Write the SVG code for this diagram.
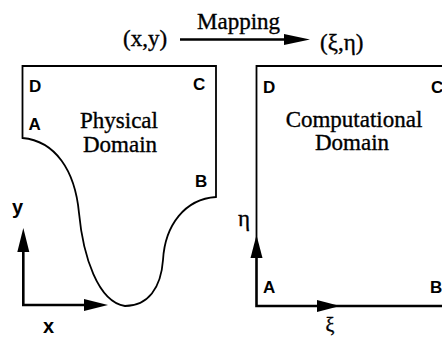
<svg xmlns="http://www.w3.org/2000/svg" width="442" height="341" viewBox="0 0 442 341">
<style>
.serif{font-family:"Liberation Serif","Times New Roman",serif;font-size:23px;fill:#000;stroke:#000;stroke-width:0.35}
.lab{font-family:"Liberation Sans",Arial,sans-serif;font-size:17px;font-weight:bold;fill:#000}
.ax{font-family:"Liberation Sans",Arial,sans-serif;font-size:20px;font-weight:bold;fill:#000}
.ln{fill:none;stroke:#000;stroke-width:1.8}
.thick{fill:none;stroke:#000;stroke-width:2.6}
.head{fill:#000;stroke:none}
</style>
<rect width="442" height="341" fill="#fff"/>
<g id="mapping">
  <text class="serif" x="123" y="45.5">(x,y)</text>
  <text class="serif" x="197" y="28.5">Mapping</text>
  <text class="serif" x="320" y="50">(ξ,η)</text>
</g>
<g id="physical">
  <path class="ln" d="M22.5,138 L22.5,66 L216,66 L216,197 C185,199 165,225 163,260 C161,288 148,306 125,306 C98,302 83,256 79,213 C75,170 55,141 22.5,138 Z"/>
  <text class="lab" x="29" y="92">D</text>
  <text class="lab" x="193" y="90">C</text>
  <text class="lab" x="28.5" y="130">A</text>
  <text class="lab" x="195" y="187">B</text>
  <text class="serif" x="119" y="128" text-anchor="middle">Physical</text>
  <text class="serif" x="120" y="152" text-anchor="middle">Domain</text>
</g>
<g id="computational">
  <path class="ln" d="M256.5,240 L256.5,66 L442,66"/>
  <text class="lab" x="263" y="93">D</text>
  <text class="lab" x="431" y="93">C</text>
  <text class="lab" x="263" y="293">A</text>
  <text class="lab" x="430" y="293">B</text>
  <text class="serif" x="354" y="127" text-anchor="middle">Computational</text>
  <text class="serif" x="352" y="150" text-anchor="middle">Domain</text>
</g>
<g id="connectors">
  <line class="thick" x1="180" y1="39.5" x2="290" y2="39.5"/>
  <polygon class="head" points="310,39.5 284,34 284,45"/>
  <path class="thick" d="M23.3,250 L23.3,305 L90,305"/>
  <polygon class="head" points="23.3,228 17.3,252 29.3,252"/>
  <polygon class="head" points="108,305 84,299 84,311"/>
  <path class="thick" d="M256.5,255 L256.5,306 L442,306"/>
  <polygon class="head" points="256.5,235 250.5,258 262.5,258"/>
  <polygon class="head" points="340,306 317,300 317,312"/>
</g>
<g id="axis-labels">
  <text class="ax" x="12" y="214">y</text>
  <text class="ax" x="43" y="333">x</text>
  <text class="serif" x="244" y="226" text-anchor="middle">η</text>
  <text class="serif" x="330" y="332" text-anchor="middle" style="font-size:20px">ξ</text>
</g>
</svg>
